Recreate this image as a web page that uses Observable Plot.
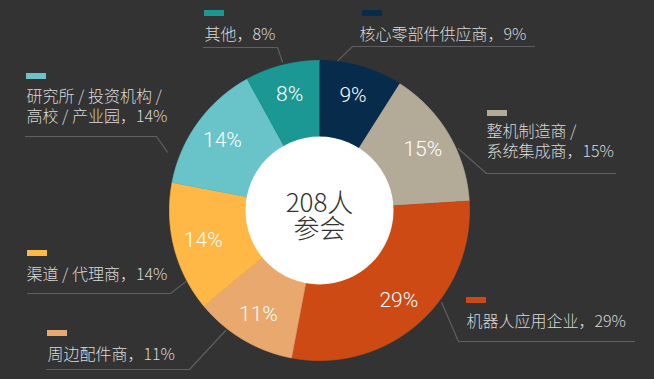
<!DOCTYPE html>
<html><head><meta charset="utf-8">
<script src="https://cdn.jsdelivr.net/npm/d3@7"></script>
<script src="https://cdn.jsdelivr.net/npm/@observablehq/plot@0.6"></script>
<style>
html,body{margin:0;padding:0;background:#333333;}
#chart{width:654px;height:379px;overflow:hidden;}
</style></head><body><div id="chart"></div>
<script>
// ---- data ----
const categories = ["核心零部件供应商", "整机制造商 /\n系统集成商", "机器人应用企业", "周边配件商", "渠道 / 代理商", "研究所 / 投资机构 /\n高校 / 产业园", "其他"];
const shares = [9, 15, 29, 11, 14, 14, 8];
const total = 208;
const centerUnit = "人";
const centerNote = "参会";

// ---- style / layout ----
const colors = ["#062b4b", "#b4aa98", "#cd4a15", "#e9a86d", "#ffb746", "#69c4ca", "#1b9794"];
const geo = {cx: 319, cy: 210, R: 150, hole: 74, labelR: 120};
// annotation layout per category: text left/baseline(last line), swatch, underline, elbow, leader end (angle deg, radius)
const layout = [
  {tx: 359, ty: 39,  rx: 362, ry: 10,  uy: 46,  far: 534, ex: 352, ang: 7,   lr: 151},
  {tx: 486, ty: 156, rx: 487, ry: 110, uy: 173, far: 615, ex: 486, ang: 66,  lr: 152},
  {tx: 466, ty: 326, rx: 466, ry: 297, uy: 341, far: 634, ex: 458, ang: 127, lr: 153},
  {tx: 47,  ty: 359, rx: 47,  ry: 330, uy: 369, far: 46,  ex: 189, ang: 218, lr: 152},
  {tx: 26,  ty: 279, rx: 27,  ry: 250, uy: 293, far: 27,  ex: 170, ang: 242, lr: 151},
  {tx: 26,  ty: 121, rx: 26,  ry: 73,  uy: 136, far: 25,  ex: 156, ang: 291, lr: 163},
  {tx: 204, ty: 39,  rx: 204, ry: 10,  uy: 47,  far: 203, ex: 277, ang: 346, lr: 153}
];

const px = (a, r) => geo.cx + r * Math.sin(a);
const py = (a, r) => geo.cy - r * Math.cos(a);
const rad = d => d * Math.PI / 180;

// wedges
const sum = d3.sum(shares);
const wedges = [];
const slices = [];
let cum = 0;
categories.forEach((cat, i) => {
  const a0 = cum / sum * 2 * Math.PI;
  cum += shares[i];
  const a1 = cum / sum * 2 * Math.PI;
  wedges.push({cat, x: geo.cx, y: geo.cy});
  const n = Math.max(4, Math.ceil((a1 - a0) / 0.005));
  for (let k = 0; k <= n; k++) {
    const t = a0 + (a1 - a0) * k / n;
    wedges.push({cat, x: px(t, geo.R), y: py(t, geo.R)});
  }
  const am = (a0 + a1) / 2;
  slices.push({cat, share: shares[i], x: px(am, geo.labelR), y: py(am, geo.labelR)});
});

const ann = categories.map((cat, i) => ({cat, share: shares[i], ...layout[i]}));
const leaders = [];
ann.forEach(d => {
  leaders.push({cat: d.cat, x: d.far, y: d.uy});
  leaders.push({cat: d.cat, x: d.ex, y: d.uy});
  leaders.push({cat: d.cat, x: px(rad(d.ang), d.lr), y: py(rad(d.ang), d.lr)});
});

const cjk = "'Noto Sans CJK SC', 'Noto Sans', sans-serif";

const chart = Plot.plot({
  width: 654,
  height: 379,
  margin: 0,
  x: {domain: [0, 654], axis: null},
  y: {domain: [0, 379], reverse: true, axis: null},
  color: {domain: categories, range: colors},
  style: {background: "#333333", fontFamily: cjk, overflow: "visible"},
  marks: [
    Plot.line(wedges, {x: "x", y: "y", z: "cat", fill: "cat", stroke: "cat", strokeWidth: 0.8, curve: "linear"}),
    Plot.dot([{x: geo.cx, y: geo.cy}], {x: "x", y: "y", r: geo.hole, fill: "white", stroke: null}),
    Plot.text(slices, {x: "x", y: "y", text: d => d.share + "%", fill: "white", fontSize: 21, fontFamily: "Roboto, 'Noto Sans', sans-serif", fontWeight: 300}),
    Plot.text([{x: geo.cx, y: 237}], {x: "x", y: "y", text: () => `${total}${centerUnit}\n${centerNote}`, lineAnchor: "bottom", lineHeight: 1, fontSize: 26, fill: "#333333", fontWeight: 300, fontFamily: cjk}),
    Plot.rect(ann, {x1: "rx", x2: d => d.rx + 20, y1: "ry", y2: d => d.ry + 6, fill: "cat"}),
    Plot.line(leaders, {x: "x", y: "y", z: "cat", stroke: "#5f5f5f", strokeWidth: 1.2, curve: "linear"}),
    Plot.text(ann, {x: "tx", y: "ty", text: d => `${d.cat}，${d.share}%`, textAnchor: "start", lineAnchor: "bottom", lineHeight: 1.25, fontSize: 16, fill: "#d9d9d9", fontWeight: 300, fontFamily: cjk})
  ]
});
document.getElementById("chart").appendChild(chart);
</script></body></html>
